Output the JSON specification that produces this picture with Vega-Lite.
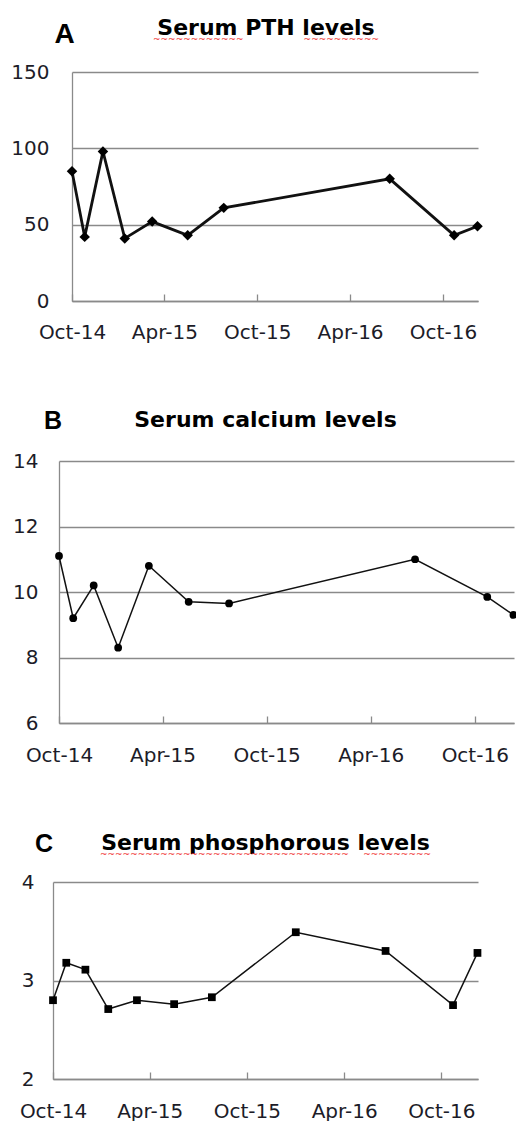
{
  "$schema": "https://vega.github.io/schema/vega-lite/v6.json",
  "padding": {"left": 10, "top": 17, "right": 0, "bottom": 0},
  "background": "white",
  "config": {
    "view": {"stroke": null},
    "font": "DejaVu Sans",
    "axis": {"labelFont": "DejaVu Sans", "labelFontSize": 20, "labelColor": "#1c1c28", "domainColor": "#8a8a8a", "gridColor": "#8a8a8a", "tickColor": "#8a8a8a", "domainWidth": 1.3, "gridWidth": 1.3, "tickWidth": 1.3},
    "title": {"font": "DejaVu Sans", "fontSize": 22, "fontWeight": "bold", "color": "#000000", "frame": "group", "anchor": "middle", "subtitleFont": "DejaVu Sans", "subtitleFontSize": 9, "subtitleColor": "#f02828"}
  },
  "datasets": {
    "pth": [
      {"date": "2014-10-01", "value": 85},
      {"date": "2014-10-26", "value": 42},
      {"date": "2014-12-01", "value": 98},
      {"date": "2015-01-13", "value": 41},
      {"date": "2015-03-08", "value": 52},
      {"date": "2015-05-17", "value": 43},
      {"date": "2015-07-27", "value": 61},
      {"date": "2016-06-18", "value": 80},
      {"date": "2016-10-23", "value": 43},
      {"date": "2016-12-08", "value": 49}
    ],
    "calcium": [
      {"date": "2014-10-01", "value": 11.1},
      {"date": "2014-10-26", "value": 9.2},
      {"date": "2014-12-01", "value": 10.2},
      {"date": "2015-01-13", "value": 8.3},
      {"date": "2015-03-08", "value": 10.8},
      {"date": "2015-05-17", "value": 9.7},
      {"date": "2015-07-27", "value": 9.65},
      {"date": "2016-06-18", "value": 11.0},
      {"date": "2016-10-23", "value": 9.85},
      {"date": "2016-12-08", "value": 9.3}
    ],
    "phos": [
      {"date": "2014-10-01", "value": 2.80},
      {"date": "2014-10-26", "value": 3.18},
      {"date": "2014-12-01", "value": 3.11},
      {"date": "2015-01-13", "value": 2.71},
      {"date": "2015-03-08", "value": 2.80},
      {"date": "2015-05-17", "value": 2.76},
      {"date": "2015-07-27", "value": 2.83},
      {"date": "2016-01-01", "value": 3.49},
      {"date": "2016-06-18", "value": 3.30},
      {"date": "2016-10-23", "value": 2.75},
      {"date": "2016-12-08", "value": 3.28}
    ]
  },
  "columns": 1,
  "spacing": 66,
  "concat": [
    {
      "width": 406,
      "height": 229,
      "title": {"text": "Serum PTH levels", "subtitle": "~~~~~~~~~~~~\u00a0\u00a0\u00a0\u00a0\u00a0\u00a0\u00a0\u00a0\u00a0\u00a0\u00a0\u00a0\u00a0\u00a0\u00a0\u00a0\u00a0\u00a0\u00a0\u00a0\u00a0~~~~~~~~~~", "subtitlePadding": -5, "dx": 10, "offset": -25},
      "data": {"name": "pth"},
      "encoding": {
        "x": {
          "field": "date", "type": "temporal",
          "scale": {"type": "utc", "range": [19, 425], "domain": [{"year": 2014, "month": 10, "date": 1, "utc": true}, {"year": 2016, "month": 12, "date": 9, "utc": true}]},
          "axis": {"title": null, "grid": false, "values": [{"year": 2014, "month": 10, "date": 1, "utc": true}, {"year": 2015, "month": 4, "date": 1, "utc": true}, {"year": 2015, "month": 10, "date": 1, "utc": true}, {"year": 2016, "month": 4, "date": 1, "utc": true}, {"year": 2016, "month": 10, "date": 1, "utc": true}], "labelExpr": "utcFormat(datum.value, '%b-%y')", "tickSize": -7, "labelPadding": 44, "labelBaseline": "alphabetic", "labelFlush": false, "labelOverlap": false}
        },
        "y": {
          "field": "value", "type": "quantitative",
          "scale": {"domain": [0, 150], "nice": false, "zero": false},
          "axis": {"offset": -19, "title": "A", "titleAngle": 0, "titleAlign": "left", "titleBaseline": "alphabetic", "titleX": -18, "titleY": -30, "titleFont": "Liberation Sans", "titleFontSize": 28, "titleFontWeight": "bold", "titleColor": "#000000", "values": [0, 50, 100, 150], "labelExpr": "format(datum.value, 'd')", "grid": true, "ticks": false, "labelPadding": 23}
        }
      },
      "layer": [
        {"mark": {"type": "line", "color": "#111111", "strokeWidth": 2.8}},
        {"mark": {"type": "point", "shape": "diamond", "filled": true, "color": "#000000", "size": 110, "opacity": 1}}
      ]
    },
    {
      "width": 455,
      "height": 262,
      "title": {"text": "Serum calcium levels", "dx": -15, "offset": -24},
      "data": {"name": "calcium"},
      "encoding": {
        "x": {
          "field": "date", "type": "temporal",
          "scale": {"type": "utc", "range": [6, 461], "domain": [{"year": 2014, "month": 10, "date": 1, "utc": true}, {"year": 2016, "month": 12, "date": 9, "utc": true}]},
          "axis": {"title": null, "grid": false, "values": [{"year": 2014, "month": 10, "date": 1, "utc": true}, {"year": 2015, "month": 4, "date": 1, "utc": true}, {"year": 2015, "month": 10, "date": 1, "utc": true}, {"year": 2016, "month": 4, "date": 1, "utc": true}, {"year": 2016, "month": 10, "date": 1, "utc": true}], "labelExpr": "utcFormat(datum.value, '%b-%y')", "tickSize": -7, "labelPadding": 45, "labelBaseline": "alphabetic", "labelFlush": false, "labelOverlap": false}
        },
        "y": {
          "field": "value", "type": "quantitative",
          "scale": {"domain": [6, 14], "nice": false, "zero": false},
          "axis": {"offset": -6, "title": "B", "titleAngle": 0, "titleAlign": "left", "titleBaseline": "alphabetic", "titleX": -15.5, "titleY": -33, "titleFont": "Liberation Sans", "titleFontSize": 25, "titleFontWeight": "bold", "titleColor": "#000000", "values": [6, 8, 10, 12, 14], "labelExpr": "format(datum.value, 'd')", "grid": true, "ticks": false, "labelPadding": 21}
        }
      },
      "layer": [
        {"mark": {"type": "line", "color": "#111111", "strokeWidth": 1.5}},
        {"mark": {"type": "point", "shape": "circle", "filled": true, "color": "#000000", "size": 60, "opacity": 1}}
      ]
    },
    {
      "width": 425,
      "height": 197,
      "title": {"text": "Serum phosphorous levels", "subtitle": "~~~~~~~~~~~~~~~~~~~~~~~~~~~~~~~~~\u00a0\u00a0\u00a0\u00a0\u00a0~~~~~~~~~", "subtitlePadding": -5, "dx": 0, "offset": -29},
      "data": {"name": "phos"},
      "encoding": {
        "x": {
          "field": "date", "type": "temporal",
          "scale": {"type": "utc", "range": [0, 425], "domain": [{"year": 2014, "month": 10, "date": 1, "utc": true}, {"year": 2016, "month": 12, "date": 9, "utc": true}]},
          "axis": {"title": null, "grid": false, "values": [{"year": 2014, "month": 10, "date": 1, "utc": true}, {"year": 2015, "month": 4, "date": 1, "utc": true}, {"year": 2015, "month": 10, "date": 1, "utc": true}, {"year": 2016, "month": 4, "date": 1, "utc": true}, {"year": 2016, "month": 10, "date": 1, "utc": true}], "labelExpr": "utcFormat(datum.value, '%b-%y')", "tickSize": -7, "labelPadding": 45, "labelBaseline": "alphabetic", "labelFlush": false, "labelOverlap": false}
        },
        "y": {
          "field": "value", "type": "quantitative",
          "scale": {"domain": [2, 4], "nice": false, "zero": false},
          "axis": {"title": "C", "titleAngle": 0, "titleAlign": "left", "titleBaseline": "alphabetic", "titleX": -18.5, "titleY": -31, "titleFont": "Liberation Sans", "titleFontSize": 25, "titleFontWeight": "bold", "titleColor": "#000000", "values": [2, 3, 4], "labelExpr": "format(datum.value, 'd')", "grid": true, "ticks": false, "labelPadding": 19}
        }
      },
      "layer": [
        {"mark": {"type": "line", "color": "#111111", "strokeWidth": 1.5}},
        {"mark": {"type": "point", "shape": "square", "filled": true, "color": "#000000", "size": 60, "opacity": 1}}
      ]
    }
  ]
}
